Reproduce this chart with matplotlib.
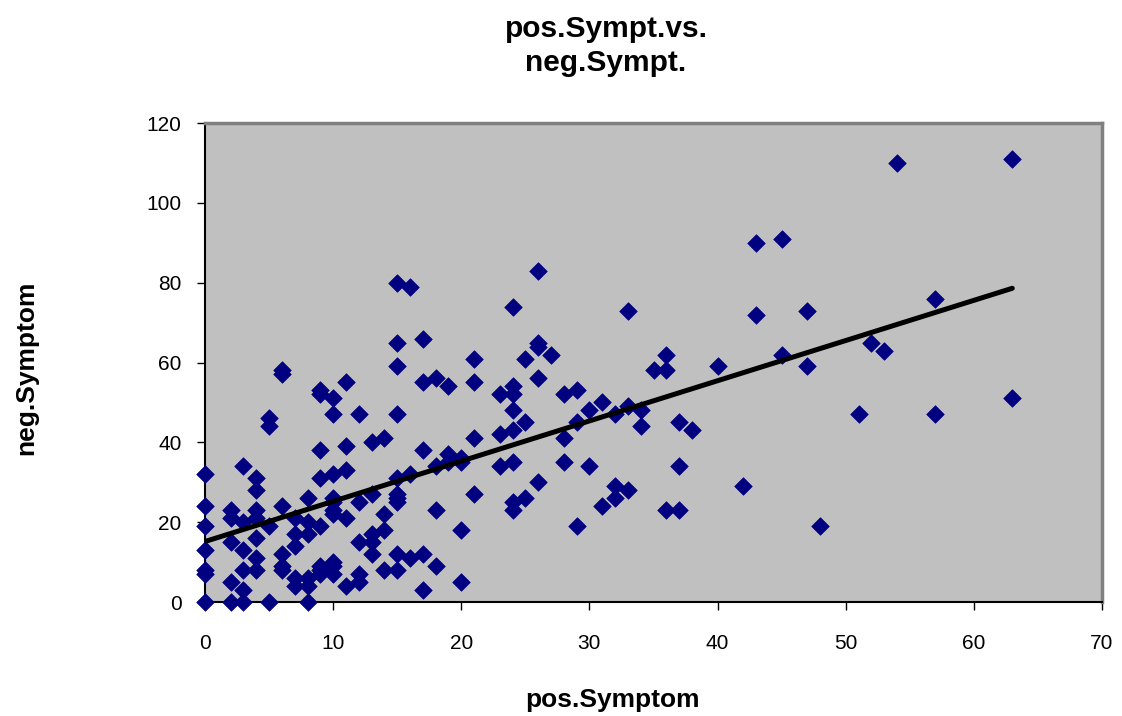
import numpy as np
import matplotlib
matplotlib.use("Agg")
import matplotlib.pyplot as plt

plt.rcParams['font.family'] = ['Liberation Sans', 'DejaVu Sans']

# (pos.Symptom, list of neg.Symptom values)
pos_groups = {
    0: [0, 7, 8, 13, 19, 24, 32],
    2: [23, 21, 15, 5, 0],
    3: [34, 20, 13, 8, 3, 0],
    4: [31, 28, 23, 21, 16, 11, 8],
    5: [46, 44, 19, 0],
    6: [58, 57, 24, 12, 9, 8],
    7: [21, 17, 14, 6, 4],
    8: [26, 20, 17, 6, 4, 0],
    9: [53, 52, 38, 31, 19, 9, 8, 7],
    10: [51, 47, 32, 26, 25, 23, 22, 10, 9, 7],
    11: [55, 39, 33, 21, 4],
    12: [47, 25, 15, 7, 5],
    13: [40, 27, 17, 15, 12],
    14: [41, 22, 18, 8],
    15: [80, 65, 59, 47, 31, 27, 26, 25, 12, 8],
    16: [79, 32, 11],
    17: [66, 55, 38, 12, 3],
    18: [56, 34, 23, 9],
    19: [54, 37, 35],
    20: [36, 35, 18, 5],
    21: [61, 55, 41, 27],
    23: [52, 42, 34],
    24: [74, 54, 52, 48, 43, 35, 25, 23],
    25: [61, 45, 26],
    26: [83, 65, 64, 56, 30],
    27: [62],
    28: [52, 41, 35],
    29: [53, 45, 19],
    30: [48, 34],
    31: [50, 24],
    32: [47, 29, 26],
    33: [73, 49, 28],
    34: [48, 44],
    35: [58],
    36: [62, 58, 23],
    37: [45, 34, 23],
    38: [43],
    40: [59],
    42: [29],
    43: [90, 72],
    45: [91, 62],
    47: [73, 59],
    48: [19],
    51: [47],
    52: [65],
    53: [63],
    54: [110],
    57: [76, 47],
    63: [111, 51],
}

pos_symptom = [x for x, ys in pos_groups.items() for _ in ys]
neg_symptom = [y for ys in pos_groups.values() for y in ys]

x_ticks = [0, 10, 20, 30, 40, 50, 60, 70]
y_ticks = [0, 20, 40, 60, 80, 100, 120]

W, H = 1122, 716
fig = plt.figure(figsize=(W / 100, H / 100), dpi=100)
ax = fig.add_axes([205 / W, 1 - 602 / H, (1102 - 205) / W, (602 - 123) / H])
ax.set_facecolor('#C0C0C0')

x = np.array(pos_symptom, dtype=float)
y = np.array(neg_symptom, dtype=float)
ax.scatter(x, y, marker='D', s=80, color='#000080', edgecolors='#000080',
           linewidths=0.5, zorder=3, clip_on=False)

slope, intercept = np.polyfit(x, y, 1)
xf = np.array([x.min(), x.max()])
ax.plot(xf, intercept + slope * xf, color='black', lw=3.6,
        solid_capstyle='round', zorder=4)

ax.set_xlim(0, 70)
ax.set_ylim(0, 120)
ax.set_xticks(x_ticks)
ax.set_yticks(y_ticks)
ax.tick_params(axis='both', direction='out', length=6, width=1, color='black',
               labelsize=15, labelcolor='black')
ax.tick_params(axis='x', pad=17)
ax.tick_params(axis='y', pad=11)

for side in ['left', 'bottom']:
    ax.spines[side].set_color('black')
    ax.spines[side].set_linewidth(1.5)
for side in ['top', 'right']:
    ax.spines[side].set_color('#808080')
    ax.spines[side].set_linewidth(2.5)

fig.text(606 / W, 1 - 46 / H, 'pos.Sympt.vs.\nneg.Sympt.', ha='center',
         va='center', fontsize=21.5, fontweight='bold', linespacing=1.3)
fig.text(612 / W, 1 - 700 / H, 'pos.Symptom', ha='center', va='center',
         fontsize=19, fontweight='bold')
fig.text(26 / W, 1 - 368 / H, 'neg.Symptom', ha='center', va='center',
         fontsize=19, fontweight='bold', rotation=90)

fig.savefig('out.png', dpi=100)
